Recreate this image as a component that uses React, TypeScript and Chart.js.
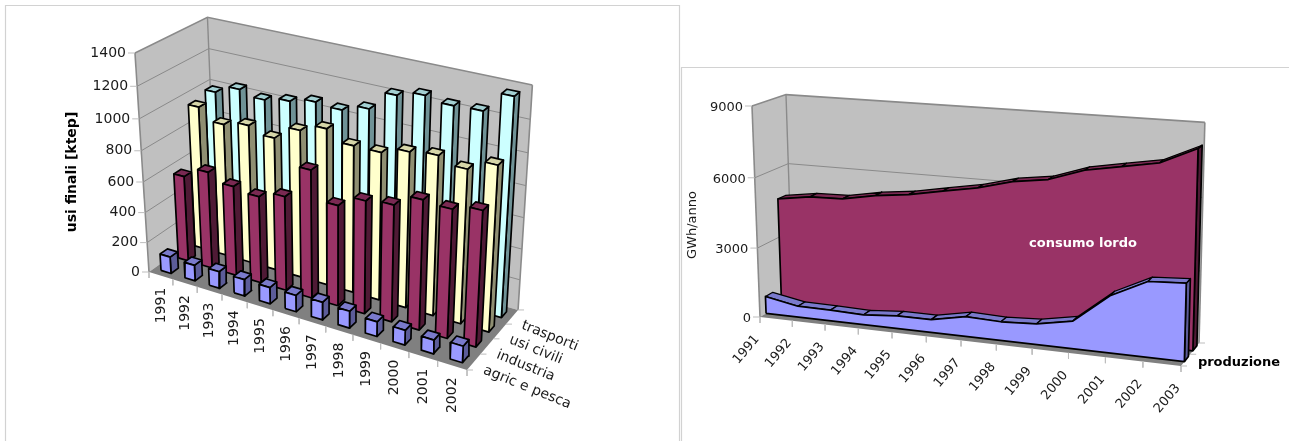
import React, { useEffect, useRef } from "react";
import { Chart, registerables } from "chart.js";

Chart.register(...registerables);

const WIDTH = 1289;
const HEIGHT = 441;

// Final energy uses (ktep) per year and sector
const barYears = ["1991","1992","1993","1994","1995","1996","1997","1998","1999","2000","2001","2002"];
const sectors = ["agric e pesca","industria","usi civili","trasporti"];
const agricPesca = [112,105,112,110,108,108,115,110,95,95,88,105];
const industria = [570,641,592,570,615,825,648,722,742,818,807,845];
const usiCivili = [952,879,912,872,960,1010,945,945,990,1010,970,1036];
const trasporti = [985,1040,1010,1039,1072,1060,1105,1225,1262,1238,1245,1368];
const usesTicks = [0,200,400,600,800,1000,1200,1400];

// Electricity production and gross consumption (GWh/year)
const areaYears = ["1991","1992","1993","1994","1995","1996","1997","1998","1999","2000","2001","2002","2003"];
const produzione = [750,480,470,430,550,550,840,790,870,1150,2350,3080,3170];
const consumoLordo = [4676,4888,4930,5188,5357,5625,5880,6261,6467,6961,7222,7480,8160];
const energyTicks = [0,3000,6000,9000];

type Pt = { x: number; y: number };
type Shade = { front: string; side: string; top: string };

const BLUE: Shade = { front: "#9999ff", side: "#5c5c99", top: "#7a7acc" };
const WINE: Shade = { front: "#993366", side: "#4f1a35", top: "#7a2952" };
const CREAM: Shade = { front: "#ffffcc", side: "#8f8f72", top: "#d6d6a8" };
const AQUA: Shade = { front: "#ccffff", side: "#6f9296", top: "#a3d0d2" };

const WALL = "#c0c0c0";
const FLOOR = "#808080";
const EDGE = "#8a8a8a";
const TICK = "#bdbdbd";
const FRAME = "#d2d2d2";
const INK = "#1a1a1a";
const OUTLINE = 1.7;

// Perspective box: o/xEnd/yEnd/zEnd are where the axis ends land, a/b/c the perspective terms
type Box = { o: Pt; xEnd: Pt; yEnd: Pt; zEnd: Pt; a: number; b: number; c: number };

function projector({ o, xEnd, yEnd, zEnd, a, b, c }: Box) {
  return (u: number, v: number, w: number): Pt => {
    const d = 1 + a * u + b * v + c * w;
    const nx = o.x + u * ((1 + a) * xEnd.x - o.x) + v * ((1 + b) * yEnd.x - o.x) + w * ((1 + c) * zEnd.x - o.x);
    const ny = o.y + u * ((1 + a) * xEnd.y - o.y) + v * ((1 + b) * yEnd.y - o.y) + w * ((1 + c) * zEnd.y - o.y);
    return { x: nx / d, y: ny / d };
  };
}

function polygon(points: Pt[], fillColor: string, stroke: string, lineWidth: number) {
  return {
    type: "line" as const,
    data: [...points, points[0]],
    backgroundColor: fillColor,
    borderColor: stroke,
    borderWidth: lineWidth,
    borderJoinStyle: "round" as const,
    fill: "shape",
    pointRadius: 0,
    tension: 0,
    clip: false,
  };
}

function segment(points: Pt[], stroke: string, lineWidth: number) {
  return {
    type: "line" as const,
    data: points,
    borderColor: stroke,
    borderWidth: lineWidth,
    fill: false,
    pointRadius: 0,
    tension: 0,
    clip: false,
  };
}

type Project = ReturnType<typeof projector>;

// Walls, floor, gridlines and tick marks, back to front
function shell(p: Project, yLevels: number, xCells: number, zCells: number) {
  const out: any[] = [];
  out.push(polygon([p(0, 0, 0), p(0, 1, 0), p(0, 1, 1), p(0, 0, 1)], WALL, WALL, 0));
  out.push(polygon([p(0, 1, 0), p(1, 1, 0), p(1, 1, 1), p(0, 1, 1)], WALL, WALL, 0));
  out.push(polygon([p(0, 0, 0), p(1, 0, 0), p(1, 1, 0), p(0, 1, 0)], FLOOR, FLOOR, 0));
  for (let i = 1; i <= yLevels; i++) {
    const w = i / yLevels;
    out.push(segment([p(0, 0, w), p(0, 1, w), p(1, 1, w)], EDGE, i === yLevels ? 1.6 : 1));
  }
  out.push(segment([p(0, 0, 0), p(0, 0, 1)], EDGE, 1.6));
  out.push(segment([p(0, 1, 0), p(0, 1, 1)], EDGE, 1.4));
  out.push(segment([p(1, 1, 0), p(1, 1, 1)], EDGE, 1.6));
  for (let i = 0; i <= yLevels; i++) {
    const a = p(0, 0, i / yLevels);
    out.push(segment([a, { x: a.x - 7, y: a.y }], TICK, 1));
  }
  for (let i = 0; i <= xCells; i++) {
    const a = p(i / xCells, 0, 0);
    out.push(segment([a, { x: a.x, y: a.y + 6 }], TICK, 1));
  }
  for (let i = 0; i <= zCells; i++) {
    const a = p(1, i / zCells, 0);
    out.push(segment([a, { x: a.x + 6, y: a.y }], TICK, 1));
  }
  return out;
}

function barFaces(p: Project, u0: number, u1: number, v0: number, v1: number, w: number, shade: Shade) {
  return [
    polygon([p(u1, v0, 0), p(u1, v1, 0), p(u1, v1, w), p(u1, v0, w)], shade.side, "#000", OUTLINE),
    polygon([p(u0, v0, w), p(u1, v0, w), p(u1, v1, w), p(u0, v1, w)], shade.top, "#000", OUTLINE),
    polygon([p(u0, v0, 0), p(u1, v0, 0), p(u1, v0, w), p(u0, v0, w)], shade.front, "#000", OUTLINE),
  ];
}

function areaFaces(p: Project, values: number[], max: number, v0: number, v1: number, shade: Shade) {
  const n = values.length - 1;
  const out: any[] = [];
  const lvl = (i: number) => values[i] / max;
  out.push(polygon([p(1, v0, 0), p(1, v1, 0), p(1, v1, lvl(n)), p(1, v0, lvl(n))], shade.side, "#000", OUTLINE));
  for (let i = 0; i < n; i++) {
    out.push(polygon([
      p(i / n, v0, lvl(i)), p((i + 1) / n, v0, lvl(i + 1)),
      p((i + 1) / n, v1, lvl(i + 1)), p(i / n, v1, lvl(i)),
    ], shade.top, "#000", 1.3));
  }
  const front = values.map((_, i) => p(i / n, v0, lvl(i)));
  out.push(polygon([p(0, v0, 0), ...front, p(1, v0, 0)], shade.front, "#000", OUTLINE));
  return out;
}

function label(
  ctx: CanvasRenderingContext2D, text: string, x: number, y: number,
  font: string, align: CanvasTextAlign = "left", angleDeg = 0, color = INK,
) {
  ctx.save();
  ctx.translate(x, y);
  ctx.rotate((angleDeg * Math.PI) / 180);
  ctx.font = font;
  ctx.fillStyle = color;
  ctx.textAlign = align;
  ctx.textBaseline = "middle";
  ctx.fillText(text, 0, 0);
  ctx.restore();
}

const SANS = '"DejaVu Sans"';

function frame(ctx: CanvasRenderingContext2D, points: [number, number][]) {
  ctx.save();
  ctx.strokeStyle = FRAME;
  ctx.lineWidth = 1.2;
  ctx.beginPath();
  points.forEach(([x, y], i) => (i ? ctx.lineTo(x, y) : ctx.moveTo(x, y)));
  ctx.stroke();
  ctx.restore();
}

function baseOptions() {
  return {
    responsive: false,
    animation: false as const,
    events: [],
    layout: { padding: 0 },
    plugins: { legend: { display: false }, tooltip: { enabled: false }, title: { display: false } },
    scales: {
      x: { type: "linear" as const, min: 0, max: WIDTH, display: false },
      y: { type: "linear" as const, min: 0, max: HEIGHT, reverse: true, display: false },
    },
  };
}

// Chart.js paints the first dataset last, so layers built back to front are reversed
function buildUsesChart(canvas: HTMLCanvasElement) {
  const p = projector({
    o: { x: 149, y: 272 }, xEnd: { x: 467, y: 370 }, yEnd: { x: 215.8, y: 224.3 }, zEnd: { x: 135, y: 53 },
    a: -0.106, b: 0.07, c: -0.07,
  });
  const maxVal = usesTicks[usesTicks.length - 1];
  const rows = [
    { values: trasporti, shade: AQUA, slot: 3 },
    { values: usiCivili, shade: CREAM, slot: 2 },
    { values: industria, shade: WINE, slot: 1 },
    { values: agricPesca, shade: BLUE, slot: 0 },
  ];
  const layers: any[] = shell(p, usesTicks.length - 1, barYears.length, sectors.length);
  const nx = barYears.length;
  const nz = sectors.length;
  for (const row of rows) {
    row.values.forEach((val, i) => {
      layers.push(...barFaces(p, (i + 0.29) / nx, (i + 0.71) / nx, (row.slot + 0.29) / nz, (row.slot + 0.71) / nz, val / maxVal, row.shade));
    });
  }
  return new Chart(canvas, {
    type: "line",
    data: { datasets: layers.reverse() },
    options: baseOptions() as any,
    plugins: [{
      id: "usesText",
      beforeDatasetsDraw(chart: Chart) {
        frame(chart.ctx, [[5.5, 441], [5.5, 5.5], [679.5, 5.5], [679.5, 441]]);
      },
      afterDatasetsDraw(chart: Chart) {
        const ctx = chart.ctx;
        const font = `14px ${SANS}`;
        usesTicks.forEach((t, i) => {
          const a = p(0, 0, i / (usesTicks.length - 1));
          label(ctx, String(t), a.x - 9, a.y, font, "right");
        });
        barYears.forEach((y, i) => {
          const a = p((i + 0.5) / nx, 0, 0);
          label(ctx, y, a.x, a.y + 12, font, "right", -90);
        });
        sectors.forEach((s, i) => {
          const a = p(1, (i + 0.5) / nz, 0);
          label(ctx, s, a.x + 10, a.y + 8, font, "left", 22);
        });
        label(ctx, "usi finali [ktep]", 72, 172, `bold 14px ${SANS}`, "center", -90, "#000");
      },
    }],
  });
}

function buildEnergyChart(canvas: HTMLCanvasElement) {
  const p = projector({
    o: { x: 760, y: 317 }, xEnd: { x: 1181, y: 366 }, yEnd: { x: 792.7, y: 297.8 }, zEnd: { x: 752, y: 106 },
    a: -0.086, b: 0.04, c: -0.03,
  });
  const maxVal = energyTicks[energyTicks.length - 1];
  const layers: any[] = shell(p, energyTicks.length - 1, areaYears.length - 1, 2);
  layers.push(...areaFaces(p, consumoLordo, maxVal, 0.65, 0.88, WINE));
  layers.push(...areaFaces(p, produzione, maxVal, 0.18, 0.4, BLUE));
  return new Chart(canvas, {
    type: "line",
    data: { datasets: layers.reverse() },
    options: baseOptions() as any,
    plugins: [{
      id: "energyText",
      beforeDatasetsDraw(chart: Chart) {
        frame(chart.ctx, [[681.5, 441], [681.5, 67.5], [1289, 67.5]]);
      },
      afterDatasetsDraw(chart: Chart) {
        const ctx = chart.ctx;
        const font = `13px ${SANS}`;
        energyTicks.forEach((t, i) => {
          const a = p(0, 0, i / (energyTicks.length - 1));
          label(ctx, String(t), a.x - 9, a.y + 1.5, font, "right");
        });
        areaYears.forEach((y, i) => {
          const a = p(i / (areaYears.length - 1), 0, 0);
          label(ctx, y, a.x - 3, a.y + 20, font, "right", -50);
        });
        label(ctx, "GWh/anno", 693, 225, font, "center", -90);
        label(ctx, "consumo lordo", 1083, 244, `bold 13px ${SANS}`, "center", 0, "#ffffff");
        label(ctx, "produzione", 1239, 363, `bold 13px ${SANS}`, "center", 0, "#000");
      },
    }],
  });
}

const canvasStyle: React.CSSProperties = { position: "absolute", left: 0, top: 0, display: "block" };

export default function App() {
  const usesRef = useRef<HTMLCanvasElement>(null);
  const energyRef = useRef<HTMLCanvasElement>(null);

  useEffect(() => {
    const charts = [buildUsesChart(usesRef.current!), buildEnergyChart(energyRef.current!)];
    return () => charts.forEach((c) => c.destroy());
  }, []);

  return (
    <div style={{ position: "absolute", left: 0, top: 0, width: WIDTH, height: HEIGHT, background: "#fff", overflow: "hidden" }}>
      <canvas ref={usesRef} width={WIDTH} height={HEIGHT} style={canvasStyle} />
      <canvas ref={energyRef} width={WIDTH} height={HEIGHT} style={canvasStyle} />
    </div>
  );
}
